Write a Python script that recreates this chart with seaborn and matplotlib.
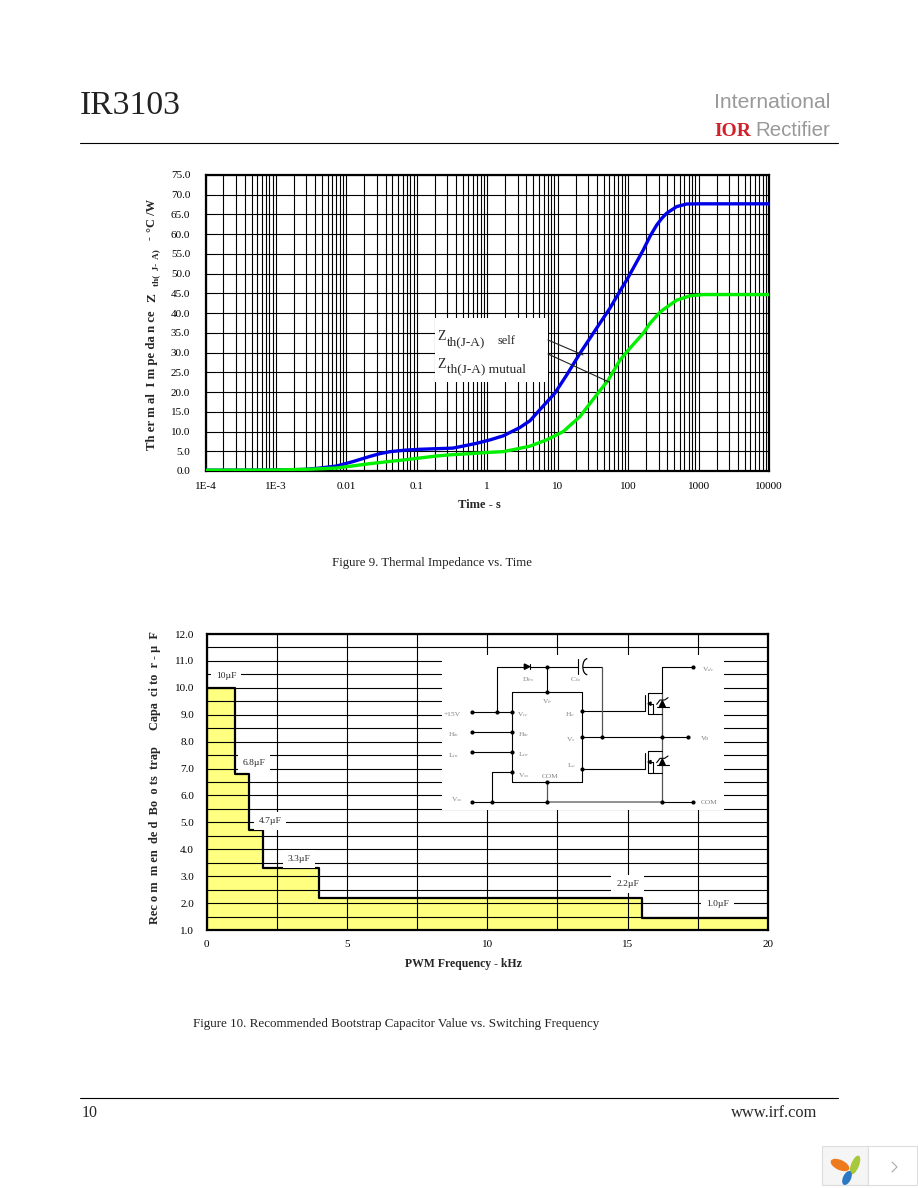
import numpy as np
import matplotlib
matplotlib.use('Agg')
import matplotlib.pyplot as plt
import seaborn as sns
from matplotlib.patches import Rectangle, Polygon, Ellipse, Arc
from matplotlib.ticker import LogLocator, FixedLocator, NullFormatter

# Figure 9 data
self_time = [1e-4, 1e-3, 0.00245, 0.004, 0.0073, 0.0125, 0.0216, 0.03, 0.0417, 0.07, 0.11, 0.327, 0.7, 1.1,
             1.68, 2.9, 4.05, 6.25, 9.1, 13.4, 20.7, 35.7, 55, 76.6, 97, 128, 164, 205, 254, 300, 352,
             490, 676, 1047, 10000]
self_zth = [0.2, 0.25, 0.4, 0.7, 1.27, 2.4, 3.7, 4.4, 4.9, 5.3, 5.5, 5.8, 7.0, 7.9,
            8.9, 11.0, 12.75, 16.5, 19.7, 24.3, 29.8, 36.2, 41.2, 45.6, 48.6, 52.5, 56.0, 59.5, 62.3, 64.0, 65.3,
            67.0, 67.65, 67.7, 67.7]
mutual_time = [1e-4, 1e-3, 0.003, 0.0073, 0.0216, 0.04, 0.065, 0.1, 0.19, 0.3, 0.57, 1, 1.68, 2.9, 4.05,
               7, 12, 20.7, 35.7, 52, 76.6, 106, 164, 204, 275, 316, 490, 760, 1175, 10000]
mutual_zth = [0.2, 0.25, 0.45, 0.76, 1.86, 2.4, 2.8, 3.2, 3.8, 4.1, 4.4, 4.7, 4.9, 5.75, 6.3,
              7.9, 10.0, 13.8, 19.3, 23.0, 28.1, 31.1, 34.9, 37.4, 40.0, 40.9, 43.3, 44.4, 44.7, 44.7]
time_labels = ['1E-4', '1E-3', '0.01', '0.1', '1', '10', '100', '1000', '10000']
time_ticks = [1e-4, 1e-3, 0.01, 0.1, 1, 10, 100, 1000, 10000]
time_minor_subs = [1.8, 2.7, 3.6, 4.5, 5.4, 6.3, 7.2, 8.1, 9.0]
zth_ticks = [0, 5, 10, 15, 20, 25, 30, 35, 40, 45, 50, 55, 60, 65, 70, 75]

# Figure 10 data
freq_khz = [0, 1, 1.5, 2, 4, 15.5, 20]
cap_uf = [10, 6.8, 4.7, 3.3, 2.2, 1.45, 1.45]
cap_labels = ['10µF', '6.8µF', '4.7µF', '3.3µF', '2.2µF', '1.0µF']
cap_label_x = [0.7, 1.7, 2.27, 3.3, 15.0, 18.2]
cap_label_y = [10.44, 7.2, 5.05, 3.63, 2.7, 1.97]
freq_ticks = [0, 5, 10, 15, 20]
cap_ticks = [1, 2, 3, 4, 5, 6, 7, 8, 9, 10, 11, 12]

W, H = 918, 1188
SERIF = 'Liberation Serif'

sns.set_theme(style='white')
plt.rcParams['font.family'] = [SERIF, 'DejaVu Serif']
plt.rcParams['mathtext.fontset'] = 'stix'

fig = plt.figure(figsize=(W / 100, H / 100), dpi=100, facecolor='white')


def px_axes(left, top, right, bottom, **kw):
    return fig.add_axes([left / W, 1 - bottom / H, (right - left) / W, (bottom - top) / H], **kw)


def style_axes(ax):
    for s in ax.spines.values():
        s.set_linewidth(1.6)
        s.set_color('black')
    ax.set_axisbelow(False)
    ax.set_xlabel('')
    ax.set_ylabel('')


# top chart
ax1 = px_axes(205.5, 175, 769, 471)
ax1.set_xscale('log')
sns.lineplot(x=self_time, y=self_zth, ax=ax1, color='#0000E8', linewidth=2.4, zorder=3, estimator=None,
             solid_joinstyle='round')
sns.lineplot(x=mutual_time, y=mutual_zth, ax=ax1, color='#00F000', linewidth=2.4, zorder=3.1, estimator=None,
             solid_joinstyle='round')
ax1.set_xlim(1e-4, 1e4)
ax1.set_ylim(0, 75)
ax1.set_xticks(time_ticks)
ax1.set_xticklabels(time_labels, fontsize=8)
ax1.xaxis.set_minor_locator(LogLocator(base=10, subs=time_minor_subs, numticks=20))
ax1.xaxis.set_minor_formatter(NullFormatter())
ax1.set_yticks(zth_ticks)
ax1.set_yticklabels([f'{v:.1f}' for v in zth_ticks], fontsize=8)
ax1.grid(True, which='both', color='black', linewidth=0.8)
ax1.tick_params(axis='both', which='both', length=0, colors='black')
ax1.tick_params(axis='y', pad=11)
ax1.tick_params(axis='x', pad=8)
style_axes(ax1)

# bottom chart
ax2 = px_axes(206.5, 634, 768, 930)
ax2.fill_between(freq_khz, cap_uf, 1, step='post', color='#FFFF80', linewidth=0, zorder=1)
sns.lineplot(x=freq_khz, y=cap_uf, ax=ax2, color='black', linewidth=1.6, drawstyle='steps-post',
             zorder=3, estimator=None)
ax2.set_xlim(0, 20)
ax2.set_ylim(1, 12)
ax2.set_xticks(freq_ticks)
ax2.set_xticklabels([str(v) for v in freq_ticks], fontsize=8)
ax2.xaxis.set_minor_locator(FixedLocator([2.5, 7.5, 12.5, 17.5]))
ax2.set_yticks(cap_ticks)
ax2.set_yticklabels([f'{v:.1f}' for v in cap_ticks], fontsize=8)
ax2.yaxis.set_minor_locator(FixedLocator(np.arange(1.5, 12, 1)))
ax2.xaxis.set_minor_formatter(NullFormatter())
ax2.yaxis.set_minor_formatter(NullFormatter())
ax2.grid(True, which='both', color='black', linewidth=0.8)
ax2.tick_params(axis='both', which='both', length=0, colors='black')
ax2.tick_params(axis='y', pad=9)
ax2.tick_params(axis='x', pad=7)
style_axes(ax2)
for name, x, y in zip(cap_labels, cap_label_x, cap_label_y):
    ax2.text(x, y, name, fontsize=6.8, ha='center', va='center', zorder=4,
             bbox=dict(facecolor='white', edgecolor='none', pad=3.5))

# page overlay in pixel coordinates
page = fig.add_axes([0, 0, 1, 1], facecolor='none')
page.set_xlim(0, W)
page.set_ylim(H, 0)
page.axis('off')


def txt(x, y, s, size=8, ha='left', va='center', **kw):
    page.text(x, y, s, fontsize=size, ha=ha, va=va, **kw)


# header and footer
txt(80, 106, 'IR3103', size=24.3, color='#222222')
page.plot([80, 838], [143, 143], color='black', lw=0.8)
page.plot([80, 838], [1098, 1098], color='black', lw=0.8)
txt(82, 1113, '10', size=11.5)
txt(817, 1113, 'www.irf.com', size=11.8, ha='right')
txt(714, 103, 'International', size=15.2, color='#999999', family='Liberation Sans')
txt(714, 131, 'IOR', size=14, color='#d0202a', family=SERIF, weight='bold')
txt(755, 131, 'Rectifier', size=14.8, color='#999999', family='Liberation Sans')

# captions and axis titles
txt(431.5, 563, 'Figure 9. Thermal Impedance vs. Time', size=9.3, ha='center', color='#222222')
txt(396, 1024, 'Figure 10. Recommended Bootstrap Capacitor Value vs. Switching Frequency',
    size=9.4, ha='center', color='#222222')
txt(479, 505, 'Time - s', size=9, ha='center', weight='bold')
txt(463, 964, 'PWM Frequency - kHz', size=8.5, ha='center', weight='bold')

rot = dict(rotation=90, weight='bold', ha='center')
txt(152, 380, 'Th er m al  I m pe da n ce', size=9.2, **rot)
txt(152, 298, 'Z', size=9.5, **rot)
txt(156, 268, 'th(  J-  A)', size=6.6, **rot)
txt(150, 238, '-', size=8.6, **rot)
txt(152, 215, '°C /W', size=9, **rot)
txt(155, 835, 'Rec o m  m en  de d  Bo  o ts  trap', size=8.9, **rot)
txt(155, 681, 'Capa  ci to  r - µ  F', size=8.8, **rot)

# legend box of the top chart
page.add_patch(Rectangle((435, 318), 113, 64, facecolor='white', edgecolor='none', zorder=2))
txt(437, 336, 'Z', size=10, zorder=3)
txt(447, 342, 'th(J-A)', size=9.5, zorder=3)
txt(497, 341, 'self', size=8.8, zorder=3)
txt(437, 364, 'Z', size=10, zorder=3)
txt(447, 369, 'th(J-A) mutual', size=9.5, zorder=3)
page.plot([548, 583], [340, 355], color='#222222', lw=0.8, zorder=3)
page.plot([548, 609], [354, 382], color='#222222', lw=0.8, zorder=3)

# bootstrap circuit, drawn in zoomed-crop units then moved to page pixels
page.add_patch(Rectangle((441.5, 655), 282, 155, facecolor='white', edgecolor='none', zorder=2))


def cx(z):
    return 430 + z / 3


def cy(z):
    return 645 + z / 3


wires = [((202, 65), (283, 65)), ((300, 65), (445, 65)), ((458, 65), (517, 65)),
         ((202, 65), (202, 200)), ((125, 200), (247, 200)), ((125, 260), (247, 260)),
         ((125, 320), (247, 320)), ((351, 65), (351, 142)), ((185, 380), (247, 380)),
         ((185, 380), (185, 470)), ((125, 470), (351, 470)), ((697, 470), (788, 470)),
         ((457, 198), (645, 198)), ((457, 275), (773, 275)), ((457, 373), (645, 373)),
         ((697, 65), (788, 65)), ((697, 65), (697, 143)), ((445, 42), (445, 88)),
         ((247, 142), (457, 142)), ((247, 412), (457, 412)), ((247, 142), (247, 412)),
         ((457, 142), (457, 412))]
gray_wires = [((517, 65), (517, 275)), ((351, 412), (351, 470)), ((697, 143), (697, 470))]
for a, b in wires:
    page.plot([cx(a[0]), cx(b[0])], [cy(a[1]), cy(b[1])], color='black', lw=0.8, zorder=3)
for a, b in gray_wires:
    page.plot([cx(a[0]), cx(b[0])], [cy(a[1]), cy(b[1])], color='#555555', lw=0.9, zorder=3)
page.plot([cx(351), cx(697)], [cy(470), cy(470)], color='#888888', lw=1.3, zorder=3)
page.add_patch(Arc((cx(472), cy(65)), 9, 16, theta1=90, theta2=270, color='black', lw=0.9, zorder=3))
page.add_patch(Polygon([(cx(283), cy(57)), (cx(283), cy(73)), (cx(299), cy(65))], color='black', zorder=3))
page.plot([cx(300), cx(300)], [cy(57), cy(73)], color='black', lw=0.8, zorder=3)

# the two mosfets
for dy in [0, 175]:
    segs = [((645, 150), (645, 198)), ((653, 143), (653, 208)), ((653, 143), (697, 143)),
            ((653, 208), (697, 208)), ((653, 176), (668, 176)), ((668, 176), (668, 208)),
            ((680, 186), (716, 186))]
    for a, b in segs:
        page.plot([cx(a[0]), cx(b[0])], [cy(a[1] + dy), cy(b[1] + dy)], color='black', lw=0.8, zorder=3)
    page.plot([cx(680), cx(690), cx(704), cx(714)],
              [cy(178 + dy), cy(165 + dy), cy(165 + dy), cy(158 + dy)], color='black', lw=0.8, zorder=3)
    page.add_patch(Polygon([(cx(688), cy(186 + dy)), (cx(706), cy(186 + dy)), (cx(697), cy(167 + dy))],
                           color='black', zorder=3))
    page.add_patch(Polygon([(cx(654), cy(176 + dy)), (cx(663), cy(171 + dy)), (cx(663), cy(181 + dy))],
                           color='black', zorder=3))

dots = [(351, 65), (351, 142), (125, 200), (202, 200), (247, 200), (125, 260), (247, 260), (125, 320),
        (247, 320), (247, 380), (125, 470), (185, 470), (351, 470), (351, 412), (457, 198), (457, 275),
        (457, 373), (517, 275), (697, 275), (773, 275), (788, 65), (697, 470), (788, 470)]
page.scatter([cx(d[0]) for d in dots], [cy(d[1]) for d in dots], s=9, color='black', linewidths=0, zorder=4)

circuit_text = [(68, 210, '+15V'), (70, 270, 'H$_{in}$'), (70, 333, 'L$_{in}$'), (80, 463, 'V$_{ss}$'),
                (280, 210, 'V$_{cc}$'), (280, 268, 'H$_{in}$'), (280, 330, 'L$_{in}$'), (280, 393, 'V$_{ss}$'),
                (360, 394, 'COM'), (352, 170, 'V$_{b}$'), (295, 104, 'D$_{bs}$'), (437, 104, 'C$_{bs}$'),
                (421, 209, 'H$_{o}$'), (421, 284, 'V$_{s}$'), (426, 363, 'L$_{o}$'), (835, 73, 'V$_{dc}$'),
                (825, 281, 'Vo'), (837, 473, 'COM')]
for zx, zy, s in circuit_text:
    txt(cx(zx), cy(zy), s, size=5.4, ha='center', color='#808080', zorder=4)

# viewer widget in the bottom corner
page.add_patch(Rectangle((822, 1146), 46, 39, facecolor='#f5f5f5', edgecolor='#dddddd', lw=0.8))
page.add_patch(Rectangle((868, 1146), 49, 39, facecolor='white', edgecolor='#dddddd', lw=0.8))
page.add_patch(Ellipse((840, 1165), 20, 10, angle=25, color='#ee7a1e', lw=0))
page.add_patch(Ellipse((855, 1165), 8, 20, angle=22, color='#a8c83c', lw=0))
page.add_patch(Ellipse((847, 1178), 8, 15, angle=25, color='#2b78c4', lw=0))
page.plot([892, 897, 892], [1162, 1167, 1172], color='#aaaaaa', lw=0.8)

fig.savefig('out.png', dpi=100)
